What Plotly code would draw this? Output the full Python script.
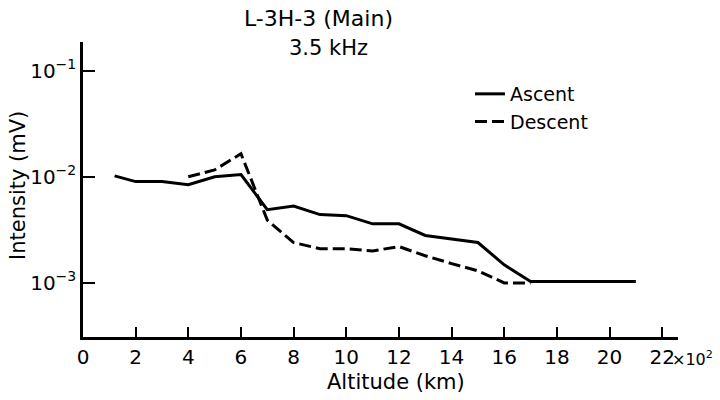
import plotly.graph_objects as go

# Data (altitude in units of 10^2 km, intensity in mV)
asc_alt = [1.2, 2, 3, 4, 5, 6, 7, 8, 9, 10, 11, 12, 13, 14, 15, 16, 17, 21]
asc_int = [0.0102, 0.0090, 0.0090, 0.0084, 0.0100, 0.0105, 0.0049, 0.0053, 0.0044, 0.0043,
           0.0036, 0.0036, 0.0028, 0.0026, 0.0024, 0.00148, 0.00103, 0.00103]
desc_alt = [4, 5, 6, 7, 8, 9, 10, 11, 12, 13, 14, 15, 16, 17]
desc_int = [0.0100, 0.0116, 0.0165, 0.0039, 0.0024, 0.0021, 0.0021, 0.0020, 0.0022, 0.0018,
            0.00152, 0.0013, 0.00100, 0.00100]

x_ticks = [0, 2, 4, 6, 8, 10, 12, 14, 16, 18, 20, 22]
x_ticktext = ["0", "2", "4", "6", "8", "10", "12", "14", "16", "18", "20", "22"]
y_ticks = [0.001, 0.01, 0.1]
y_ticktext = ["10<sup>−3</sup>", "10<sup>−2</sup>", "10<sup>−1</sup>"]

FONT = "DejaVu Sans"
L, R, T, B = 83, 678, 42, 337
def px(x):
    return (x - L) / (R - L)
def py(y):
    return (B - y) / (B - T)

def label(text, x, y, size=20, **kw):
    d = dict(text=text, x=px(x), y=py(y), xref="paper", yref="paper",
             xanchor="center", yanchor="middle", showarrow=False, font=dict(size=size))
    d.update(kw)
    return d

fig = go.Figure()
fig.add_trace(go.Scatter(x=asc_alt, y=asc_int, mode="lines", name="Ascent",
                         line=dict(color="black", width=3)))
fig.add_trace(go.Scatter(x=desc_alt, y=desc_int, mode="lines", name="Descent",
                         line=dict(color="black", width=3, dash="12px,5px")))

fig.update_layout(
    width=720, height=400,
    margin=dict(l=L, r=720 - R, t=T, b=400 - B),
    paper_bgcolor="white", plot_bgcolor="white",
    font=dict(family=FONT, size=20, color="black"),
    showlegend=True,
    legend=dict(x=px(470), y=py(75), xanchor="left", yanchor="top",
                bgcolor="rgba(0,0,0,0)", font=dict(size=19), tracegroupgap=0),
    xaxis=dict(range=[0, 22.6], tickmode="array", tickvals=x_ticks, ticktext=x_ticktext,
               ticks="inside", ticklen=10, tickwidth=1.5, tickcolor="black",
               showline=True, linecolor="black", linewidth=2.5, showgrid=False,
               zeroline=False, tickfont=dict(size=20)),
    yaxis=dict(type="log", range=[-3.51, -0.73], tickmode="array", tickvals=y_ticks,
               ticktext=y_ticktext, ticks="inside", ticklen=12, tickwidth=1.5,
               tickcolor="black", showline=True, linecolor="black", linewidth=2.5,
               showgrid=False, zeroline=False, tickfont=dict(size=20)),
    annotations=[
        label("L-3H-3 (Main)", 318, 19, size=22),
        label("3.5 kHz", 328, 48, size=21),
        label("Intensity (mV)", 18, 186, size=21, textangle=-90),
        label("Altitude (km)", 396, 382, size=21),
        label("×10<sup>2</sup>", 670, 358, size=16, xanchor="left"),
    ],
)

fig.write_html("out.html")
